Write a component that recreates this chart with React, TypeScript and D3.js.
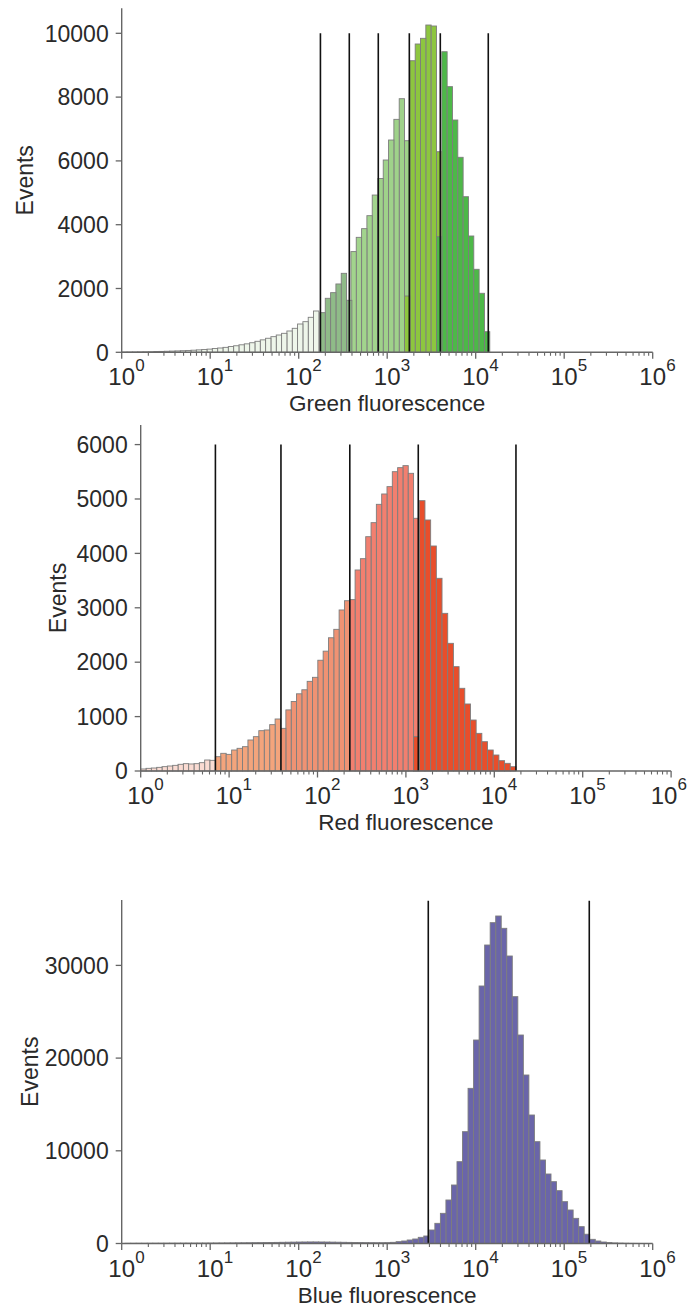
import React from "react";
import * as d3 from "d3";

// ---------------- data ----------------
const xTickExponents = [0, 1, 2, 3, 4, 5, 6];

const greenYTicks = [0, 2000, 4000, 6000, 8000, 10000];
const redYTicks = [0, 1000, 2000, 3000, 4000, 5000, 6000];
const blueYTicks = [0, 10000, 20000, 30000];

// gate boundaries (fluorescence units)
const greenGates = [176, 373, 793, 1778, 3981, 13870];
const redGates = [7.0, 38.6, 232, 1380, 17580];
const blueGates = [2912, 192000];

// per-population histogram: [first bin edge, last bin edge] as log10 of fluorescence, and counts
const greenBinRanges = [
  [0.0, 2.228],
  [2.24, 2.601],
  [2.59, 2.891],
  [2.895, 3.256],
  [3.196, 3.617],
  [3.557, 4.159],
];
const greenCounts0 = [7, 9, 11, 14, 17, 20, 24, 28, 33, 38, 44, 50, 58, 66, 76, 88, 100, 118, 135, 155, 180, 205, 235, 265, 300, 345, 390, 440, 490, 542, 595, 668, 752, 887, 960, 1097, 1295];
const greenCounts1 = [1243, 1693, 1870, 2142, 2476, 1630];
const greenCounts2 = [3157, 3604, 3876, 4283, 4930];
const greenCounts3 = [5447, 6028, 6655, 7303, 7950, 6633];
const greenCounts4 = [1765, 9141, 9665, 9843, 10260, 10229, 6288];
const greenCounts5 = [3624, 9423, 8328, 7282, 6113, 4878, 3646, 2602, 1850, 646];
const greenColors = ["#eef6ea", "#8fbb88", "#a2d48d", "#9fd28a", "#8dc63f", "#4db848"];

const redBinRanges = [
  [0.0, 0.844],
  [0.844, 1.582],
  [1.582, 2.365],
  [2.365, 3.147],
  [3.087, 4.245],
];
const redCounts0 = [37, 49, 55, 67, 80, 92, 104, 123, 135, 129, 135, 153, 202, 196];
const redCounts1 = [263, 325, 306, 386, 417, 447, 570, 631, 741, 754, 852, 956];
const redCounts2 = [784, 1123, 1277, 1419, 1493, 1648, 1722, 2036, 2203, 2449, 2604, 2960, 3130];
const redCounts3 = [3150, 3695, 3903, 4307, 4565, 4902, 5092, 5227, 5502, 5576, 5613, 5472, 4645];
const redCounts4 = [631, 4969, 4614, 4136, 3542, 2898, 2347, 1918, 1520, 1232, 937, 692, 539, 386, 294, 190, 141, 79];
const redColors = ["#fadbd2", "#f3a47c", "#ef9273", "#f27f6f", "#e84e2b"];

const blueBinRange = [0.0385, 5.9135];
const blueCounts = [
  20, 22, 25, 25, 28, 30, 30, 32, 35, 35,
  38, 40, 42, 45, 48, 50, 55, 58, 62, 66,
  70, 75, 80, 86, 92,
  100, 110, 120, 130, 140, 150, 160, 165, 170, 170, 165, 160, 150, 140, 130,
  120, 110, 100, 92, 85, 82, 84,
  90, 126, 198, 270, 378, 486, 666, 809,
  1456, 2175, 3254, 4693, 6311, 8826, 12063, 16737, 21952, 27778, 32200, 34610, 35329, 34000, 31014,
  26627, 22490, 18177, 13862, 10985, 9008, 7497, 6670, 5700, 4512, 3614, 2714, 1816, 1000,
  450, 270, 160, 100, 60, 40, 25, 15, 10, 6,
];
const blueColor = "#6a65a9";

// ---------------- chart configs (built from the arrays) ----------------
type Pop = { range: number[]; counts: number[]; color: string };
type Cfg = {
  x0: number; decade: number; yBase: number; yTop: number; yMax: number;
  yTicks: number[]; gates: number[]; gateTop: number; label: string; eventsX: number;
  pops: Pop[];
};

const charts: Cfg[] = [
  {
    x0: 121.7, decade: 88.5, yBase: 352.3, yTop: 8.3, yMax: 10784,
    yTicks: greenYTicks, gates: greenGates, gateTop: 10000, label: "Green fluorescence", eventsX: 33,
    pops: [greenCounts0, greenCounts1, greenCounts2, greenCounts3, greenCounts4, greenCounts5].map((c, i) => ({
      range: greenBinRanges[i], counts: c, color: greenColors[i],
    })),
  },
  {
    x0: 140.7, decade: 88.4, yBase: 771, yTop: 425, yMax: 6360,
    yTicks: redYTicks, gates: redGates, gateTop: 6000, label: "Red fluorescence", eventsX: 66,
    pops: [redCounts0, redCounts1, redCounts2, redCounts3, redCounts4].map((c, i) => ({
      range: redBinRanges[i], counts: c, color: redColors[i],
    })),
  },
  {
    x0: 121.7, decade: 88.5, yBase: 1243.5, yTop: 900, yMax: 37055,
    yTicks: blueYTicks, gates: blueGates, gateTop: 36980, label: "Blue fluorescence", eventsX: 38,
    pops: [{ range: blueBinRange, counts: blueCounts, color: blueColor }],
  },
];

const FONT = "'Liberation Sans', Arial, Helvetica, sans-serif";
const AXIS = "#666";
const TEXT = "#2a2a2a";
const PAGE_W = 689;

function Histogram({ cfg }: { cfg: Cfg }) {
  const x = d3.scaleLog().domain([1, 1e6]).range([cfg.x0, cfg.x0 + 6 * cfg.decade]);
  const y = d3.scaleLinear().domain([0, cfg.yMax]).range([cfg.yBase, cfg.yTop]);

  const bars: { x1: number; x2: number; v: number; color: string }[] = [];
  cfg.pops.forEach((p) => {
    const n = p.counts.length;
    const [lo, hi] = p.range;
    p.counts.forEach((v, i) => {
      const e1 = Math.pow(10, lo + ((hi - lo) * i) / n);
      const e2 = Math.pow(10, lo + ((hi - lo) * (i + 1)) / n);
      bars.push({ x1: x(e1), x2: x(e2), v, color: p.color });
    });
  });
  bars.sort((a, b) => b.v - a.v);

  const minor: number[] = [];
  for (let e = 0; e < 6; e++) for (let m = 2; m <= 9; m++) minor.push(m * Math.pow(10, e));

  const xEnd = cfg.x0 + 6 * cfg.decade;
  const mid = (cfg.x0 + xEnd) / 2;

  return (
    <g>
      {bars.map((b, i) => (
        <rect
          key={i}
          x={b.x1}
          y={y(b.v)}
          width={Math.max(0.5, b.x2 - b.x1)}
          height={cfg.yBase - y(b.v)}
          fill={b.color}
          stroke="#7d7d7d"
          strokeWidth={0.9}
        />
      ))}
      {cfg.gates.map((g, i) => (
        <line key={i} x1={x(g)} x2={x(g)} y1={y(0)} y2={y(cfg.gateTop)} stroke="#111" strokeWidth={1.6} />
      ))}
      {/* y axis */}
      <line x1={cfg.x0} x2={cfg.x0} y1={cfg.yTop} y2={cfg.yBase} stroke={AXIS} strokeWidth={1.4} />
      {cfg.yTicks.map((t) => (
        <g key={t}>
          <line x1={cfg.x0 - 6} x2={cfg.x0} y1={y(t)} y2={y(t)} stroke={AXIS} strokeWidth={1.3} />
          <text x={cfg.x0 - 13} y={y(t) + 8.2} textAnchor="end" fontSize={23} fill={TEXT} fontFamily={FONT}>
            {t}
          </text>
        </g>
      ))}
      {/* x axis */}
      <line x1={cfg.x0} x2={xEnd} y1={cfg.yBase} y2={cfg.yBase} stroke={AXIS} strokeWidth={1.4} />
      {minor.map((m) => (
        <line key={m} x1={x(m)} x2={x(m)} y1={cfg.yBase} y2={cfg.yBase + 3.5} stroke={AXIS} strokeWidth={1.1} />
      ))}
      {xTickExponents.map((e) => {
        const px = x(Math.pow(10, e));
        // keep the whole "10^e" label inside the page
        const lx = Math.min(px, PAGE_W - 2 - 13.5 - 9.5);
        return (
          <g key={e}>
            <line x1={px} x2={px} y1={cfg.yBase} y2={cfg.yBase + 6.5} stroke={AXIS} strokeWidth={1.3} />
            <text x={lx} y={cfg.yBase + 33} textAnchor="middle" fontSize={24} fill={TEXT} fontFamily={FONT}>
              10
            </text>
            <text x={lx + 13.5} y={cfg.yBase + 19} textAnchor="start" fontSize={17} fill={TEXT} fontFamily={FONT}>
              {e}
            </text>
          </g>
        );
      })}
      <text x={mid} y={cfg.yBase + 59} textAnchor="middle" fontSize={22.5} fill={TEXT} fontFamily={FONT}>
        {cfg.label}
      </text>
      <text
        transform={`translate(${cfg.eventsX},${(cfg.yTop + cfg.yBase) / 2}) rotate(-90)`}
        textAnchor="middle"
        fontSize={23}
        fill={TEXT}
        fontFamily={FONT}
      >
        Events
      </text>
    </g>
  );
}

export default function App() {
  return (
    <svg width={689} height={1312} style={{ display: "block", position: "absolute", left: 0, top: 0, background: "#fff" }}>
      <rect x={0} y={0} width={689} height={1312} fill="#fff" />
      {charts.map((c, i) => (
        <Histogram key={i} cfg={c} />
      ))}
    </svg>
  );
}
